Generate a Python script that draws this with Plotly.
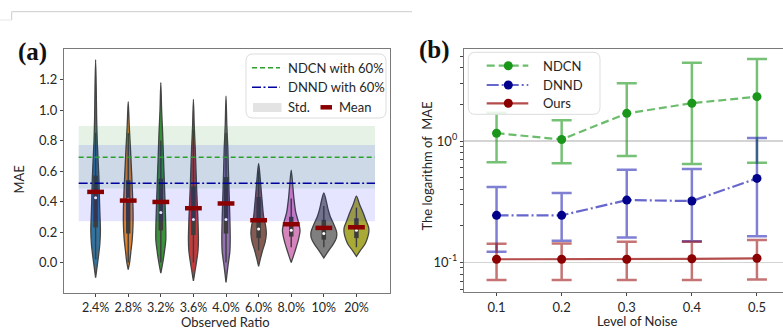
import plotly.graph_objects as go

W, H = 783, 329

# ---------------- data: panel (a) ----------------
ratios = ["2.4%", "2.8%", "3.2%", "3.6%", "4.0%", "6.0%", "8.0%", "10%", "20%"]
violin_colors = ["#3274a1", "#e1812c", "#3a923a", "#c03d3e", "#9372b2",
                 "#845b53", "#d684bd", "#7f7f7f", "#a9aa35"]
mae_mean = [0.463, 0.406, 0.397, 0.356, 0.387, 0.277, 0.251, 0.227, 0.231]
mae_median = [0.424, 0.415, 0.328, 0.282, 0.282, 0.220, 0.212, 0.190, 0.212]
mae_q1 = [0.23, 0.19, 0.21, 0.18, 0.19, 0.16, 0.17, 0.15, 0.16]
mae_q3 = [0.57, 0.54, 0.55, 0.50, 0.56, 0.43, 0.30, 0.28, 0.29]
mae_whisk_lo = [0.02, 0.00, 0.00, 0.00, 0.00, 0.08, 0.10, 0.10, 0.10]
mae_whisk_hi = [0.85, 0.85, 0.80, 0.87, 0.85, 0.60, 0.42, 0.37, 0.36]
# density profiles (value levels, relative density)
violin_levels = [
    [1.33, 1.15, 0.95, 0.80, 0.70, 0.55, 0.40, 0.30, 0.21, 0.12, 0.05, -0.02, -0.10],
    [1.055, 0.90, 0.75, 0.60, 0.50, 0.35, 0.25, 0.15, 0.08, 0.00, -0.046],
    [1.18, 1.00, 0.85, 0.70, 0.55, 0.40, 0.25, 0.15, 0.07, 0.00, -0.07],
    [1.07, 0.90, 0.75, 0.60, 0.47, 0.30, 0.15, 0.08, 0.00, -0.06, -0.12],
    [1.09, 0.90, 0.75, 0.60, 0.47, 0.30, 0.15, 0.07, -0.03, -0.08, -0.13],
    [0.65, 0.55, 0.47, 0.38, 0.30, 0.24, 0.19, 0.13, 0.08, 0.03, -0.025],
    [0.605, 0.50, 0.42, 0.33, 0.27, 0.21, 0.15, 0.10, 0.05, 0.00],
    [0.456, 0.40, 0.35, 0.30, 0.25, 0.20, 0.16, 0.12, 0.08, 0.03],
    [0.435, 0.38, 0.33, 0.28, 0.23, 0.20, 0.16, 0.12, 0.08, 0.04],
]
violin_density = [
    [0.0, 0.6, 1.0, 1.6, 2.3, 3.3, 3.9, 4.4, 4.8, 4.2, 3.0, 1.6, 0.0],
    [0.0, 1.0, 2.2, 3.3, 4.0, 4.8, 4.8, 4.0, 2.8, 1.4, 0.0],
    [0.0, 0.8, 1.8, 2.6, 3.4, 4.2, 4.9, 5.0, 3.6, 2.0, 0.0],
    [0.0, 0.8, 1.8, 2.6, 3.3, 4.4, 5.0, 4.6, 3.0, 1.5, 0.0],
    [0.0, 0.8, 1.8, 2.4, 3.0, 3.8, 4.2, 3.8, 1.8, 0.9, 0.0],
    [0.0, 1.6, 2.6, 3.8, 5.0, 7.0, 7.7, 6.4, 4.0, 2.0, 0.0],
    [0.0, 1.6, 2.7, 4.5, 7.0, 8.8, 7.2, 5.0, 2.6, 0.0],
    [0.0, 2.5, 4.2, 6.5, 10.0, 12.8, 12.5, 9.4, 5.0, 0.0],
    [0.0, 3.2, 6.5, 9.3, 12.2, 12.4, 11.0, 8.5, 4.0, 0.0],
]
ndcn60_mean, ndcn60_std = 0.69, 0.205
dnnd60_mean, dnnd60_std = 0.52, 0.25

# ---------------- data: panel (b) ----------------
noise = [0.1, 0.2, 0.3, 0.4, 0.5]
ndcn_mean = [1.16, 1.03, 1.69, 2.05, 2.32]
ndcn_upper = [1.71, 1.48, 3.00, 4.42, 4.74]
ndcn_lower = [0.667, 0.655, 0.752, 0.646, 0.662]
dnnd_mean = [0.244, 0.244, 0.326, 0.320, 0.492]
dnnd_upper = [0.418, 0.373, 0.580, 0.588, 1.06]
dnnd_lower = [0.122, 0.151, 0.160, 0.149, 0.164]
ours_mean = [0.106, 0.106, 0.106, 0.107, 0.108]
ours_upper = [0.142, 0.143, 0.148, 0.148, 0.153]
ours_lower = [0.0715, 0.0715, 0.0715, 0.0715, 0.0723]

# ---------------- helpers ----------------
def px(x):
    return x / W

def py(y):
    return 1 - y / H

FONT = "Lato, 'Open Sans', sans-serif"
TXT = "#262626"
DENS_SCALE = 1 / 32.6  # relative density -> category width units
BAND_X = [-0.52, 8.57]

fig = go.Figure()

# ---------------- panel (a): violins ----------------
for i, (lv, dn, col) in enumerate(zip(violin_levels, violin_density, violin_colors)):
    xs = [i + d * DENS_SCALE for d in dn] + [i - d * DENS_SCALE for d in reversed(dn)]
    ys = list(lv) + list(reversed(lv))
    fig.add_trace(go.Scatter(
        x=xs, y=ys, mode="lines", fill="toself", fillcolor=col,
        line=dict(color="#444444", width=1.3, shape="spline", smoothing=0.8),
        xaxis="x", yaxis="y", showlegend=False, hoverinfo="skip"))

for i in range(len(ratios)):
    fig.add_trace(go.Scatter(
        x=[i, i], y=[mae_whisk_lo[i], mae_whisk_hi[i]], mode="lines",
        line=dict(color="#3d3d3d", width=1.4), xaxis="x", yaxis="y",
        showlegend=False, hoverinfo="skip"))
    fig.add_trace(go.Scatter(
        x=[i, i], y=[mae_q1[i], mae_q3[i]], mode="lines",
        line=dict(color="#3d3d3d", width=4.5), xaxis="x", yaxis="y",
        showlegend=False, hoverinfo="skip"))

fig.add_trace(go.Scatter(
    x=list(range(len(ratios))), y=mae_median, mode="markers",
    marker=dict(color="white", size=3, symbol="circle", line=dict(width=0)),
    xaxis="x", yaxis="y", showlegend=False, hoverinfo="skip"))

# std bands
for m, s, c in [(ndcn60_mean, ndcn60_std, "rgba(0,128,0,0.1)"),
                (dnnd60_mean, dnnd60_std, "rgba(0,0,255,0.1)")]:
    fig.add_trace(go.Scatter(
        x=[BAND_X[0], BAND_X[1], BAND_X[1], BAND_X[0]],
        y=[m - s, m - s, m + s, m + s], mode="lines", fill="toself",
        fillcolor=c, line=dict(width=0), xaxis="x", yaxis="y",
        showlegend=False, hoverinfo="skip"))

NDCN60_STYLE = dict(color="#2ca02c", width=1.5, dash="5px,3px")
DNND60_STYLE = dict(color="#0000a0", width=1.5, dash="9px,2.5px,2px,2.5px")
fig.add_trace(go.Scatter(
    x=BAND_X, y=[ndcn60_mean] * 2, mode="lines", line=NDCN60_STYLE,
    xaxis="x", yaxis="y", showlegend=False, hoverinfo="skip"))
fig.add_trace(go.Scatter(
    x=BAND_X, y=[dnnd60_mean] * 2, mode="lines", line=DNND60_STYLE,
    xaxis="x", yaxis="y", showlegend=False, hoverinfo="skip"))

fig.add_trace(go.Scatter(
    x=list(range(len(ratios))), y=mae_mean, mode="markers",
    marker=dict(symbol="line-ew", size=12, color="#8b0000",
                line=dict(color="#8b0000", width=4.5)),
    xaxis="x", yaxis="y", showlegend=False, hoverinfo="skip"))

# ---------------- panel (b) ----------------
series_b = [
    ("NDCN", ndcn_mean, ndcn_upper, ndcn_lower, "#1a961a", "rgba(44,160,44,0.7)",
     "rgba(44,160,44,0.65)", "8px,4px"),
    ("DNND", dnnd_mean, dnnd_upper, dnnd_lower, "#00008b", "rgba(0,0,170,0.6)",
     "rgba(0,0,170,0.5)", "12px,3px,2px,3px"),
    ("Ours", ours_mean, ours_upper, ours_lower, "#8b0000", "rgba(150,0,0,0.7)",
     "rgba(150,0,0,0.55)", "solid"),
]
for name, mval, up, lo, mcol, lcol, ecol, dash in series_b:
    fig.add_trace(go.Scatter(
        x=noise, y=mval, name=name, mode="lines+markers",
        line=dict(color=lcol, width=2.2, dash=dash),
        marker=dict(color=mcol, size=9),
        error_y=dict(type="data", symmetric=False,
                     array=[u - v for u, v in zip(up, mval)],
                     arrayminus=[v - l for v, l in zip(mval, lo)],
                     color=ecol, thickness=2.5, width=10),
        xaxis="x2", yaxis="y2", showlegend=False))

# ---------------- shapes: manual legends, artifacts ----------------
shapes = []
def rrect(x0, y0, x1, y1, r):
    X0, X1 = px(x0), px(x1)
    Y0, Y1 = py(y0), py(y1)
    rx, ry = r / W, r / H
    return (f"M {X0+rx},{Y0} L {X1-rx},{Y0} Q {X1},{Y0} {X1},{Y0-ry} "
            f"L {X1},{Y1+ry} Q {X1},{Y1} {X1-rx},{Y1} L {X0+rx},{Y1} "
            f"Q {X0},{Y1} {X0},{Y1+ry} L {X0},{Y0-ry} Q {X0},{Y0} {X0+rx},{Y0} Z")

def hline(x0, x1, y, line):
    shapes.append(dict(type="line", xref="paper", yref="paper",
                       x0=px(x0), x1=px(x1), y0=py(y), y1=py(y),
                       line=line, layer="above"))

# legend (a)
shapes.append(dict(type="path", xref="paper", yref="paper",
                   path=rrect(246, 54, 386, 118, 7),
                   line=dict(color="#dddddd", width=1), fillcolor="rgba(255,255,255,0.85)",
                   layer="above"))
hline(252, 280, 67.7, NDCN60_STYLE)
hline(252, 280, 87.3, DNND60_STYLE)
shapes.append(dict(type="rect", xref="paper", yref="paper",
                   x0=px(253), x1=px(281.5), y0=py(103), y1=py(112),
                   line=dict(width=0), fillcolor="#e3e3e3", layer="above"))
hline(320.5, 332, 107.3, dict(color="#8b0000", width=4.5))

# legend (b)
shapes.append(dict(type="path", xref="paper", yref="paper",
                   path=rrect(468.3, 52.3, 600, 114.3, 7),
                   line=dict(color="#dddddd", width=1), fillcolor="rgba(255,255,255,0.85)",
                   layer="above"))
legend_b_rows = [65.7, 85.0, 103.3]
for (name, _, _, _, mcol, lcol, _, dash), ry in zip(series_b, legend_b_rows):
    hline(486.7, 528.3, ry, dict(color=lcol, width=2.2, dash=dash))
    r = 4.5
    shapes.append(dict(type="circle", xref="paper", yref="paper",
                       x0=px(508.3 - r), x1=px(508.3 + r), y0=py(ry + r), y1=py(ry - r),
                       line=dict(width=0), fillcolor=mcol, layer="above"))

# thin page lines at top-left
shapes.append(dict(type="line", xref="paper", yref="paper",
                   x0=px(11.7), x1=px(412), y0=py(11.7), y1=py(11.7),
                   line=dict(color="#cccccc", width=1)))
shapes.append(dict(type="line", xref="paper", yref="paper",
                   x0=px(11.7), x1=px(11.7), y0=py(11.7), y1=py(20),
                   line=dict(color="#cccccc", width=1)))
shapes.append(dict(type="line", xref="paper", yref="paper",
                   x0=px(0), x1=px(11.7), y0=py(20), y1=py(20),
                   line=dict(color="#e6e6e6", width=1)))

# ---------------- annotations ----------------
ann = []
def text(t, x, y, size=13, xanchor="left", angle=0, family=FONT, color=TXT):
    ann.append(dict(text=t, x=px(x), y=py(y), xref="paper", yref="paper",
                    xanchor=xanchor, yanchor="middle", showarrow=False, borderpad=0,
                    textangle=angle, font=dict(size=size, family=family, color=color)))

text("NDCN with 60%", 287, 67.7)
text("DNND with 60%", 287, 87.3)
text("Std.", 287, 107.3)
text("Mean", 338, 107.3)
for (name, *_), ry in zip(series_b, legend_b_rows):
    text(name, 542, ry)
text("<b>(a)</b>", 32, 52, size=25, xanchor="center",
     family="'Liberation Serif', 'Times New Roman', serif", color="#111111")
text("<b>(b)</b>", 434, 50, size=25, xanchor="center",
     family="'Liberation Serif', 'Times New Roman', serif", color="#111111")
text("MAE", 18.5, 180, xanchor="center", angle=-90)
text("Observed Ratio", 225, 322, size=13, xanchor="center")
text("The logarithm of\u00a0 MAE", 426.5, 166, xanchor="center", angle=-90)
text("Level of Noise", 636.5, 320.5, size=13, xanchor="center")

axis_common = dict(showline=True, mirror=True, linecolor="#7a7a7a", linewidth=1.2,
                   ticks="outside", ticklen=3, tickcolor="#444444", tickwidth=1,
                   zeroline=False)
TICKFONT = dict(family=FONT, size=13, color=TXT)

fig.update_layout(
    width=W, height=H, margin=dict(l=0, r=0, t=0, b=0),
    paper_bgcolor="white", plot_bgcolor="white",
    shapes=shapes, annotations=ann, showlegend=False,
    xaxis=dict(domain=[px(64), px(390)], range=[-0.97, 9.03],
               tickvals=list(range(len(ratios))), ticktext=ratios,
               tickfont=dict(family=FONT, size=12.5, color=TXT),
               showgrid=False, anchor="y", **axis_common),
    yaxis=dict(domain=[py(293), py(49)], range=[-0.2, 1.4],
               tickvals=[0, 0.2, 0.4, 0.6, 0.8, 1.0, 1.2], tickformat=".1f",
               tickfont=TICKFONT, showgrid=False, anchor="x", **axis_common),
    xaxis2=dict(domain=[px(464), 1.0], range=[0.05, 0.54],
                tickvals=noise, ticktext=[str(v) for v in noise],
                tickfont=TICKFONT, showgrid=False, anchor="y2", **axis_common),
    yaxis2=dict(domain=[py(291.7), py(49.3)], type="log", range=[-1.242, 0.756],
                tickvals=[0.1, 1], ticktext=["10<sup>-1</sup>", "10<sup>0</sup>"],
                tickfont=TICKFONT,
                showgrid=True, gridcolor="#d4d4d4", gridwidth=1.5, anchor="x2",
                minor=dict(ticks="outside", ticklen=2.5, tickcolor="#444444",
                           tickvals=[0.06, 0.07, 0.08, 0.09, 0.2, 0.3, 0.4, 0.5, 0.6,
                                     0.7, 0.8, 0.9, 2, 3, 4, 5], showgrid=False),
                **axis_common),
    hovermode=False,
)

fig.write_html("out.html", config={"displayModeBar": False, "staticPlot": True},
               post_script="document.body.style.margin='0px';document.body.style.overflow='hidden';")
